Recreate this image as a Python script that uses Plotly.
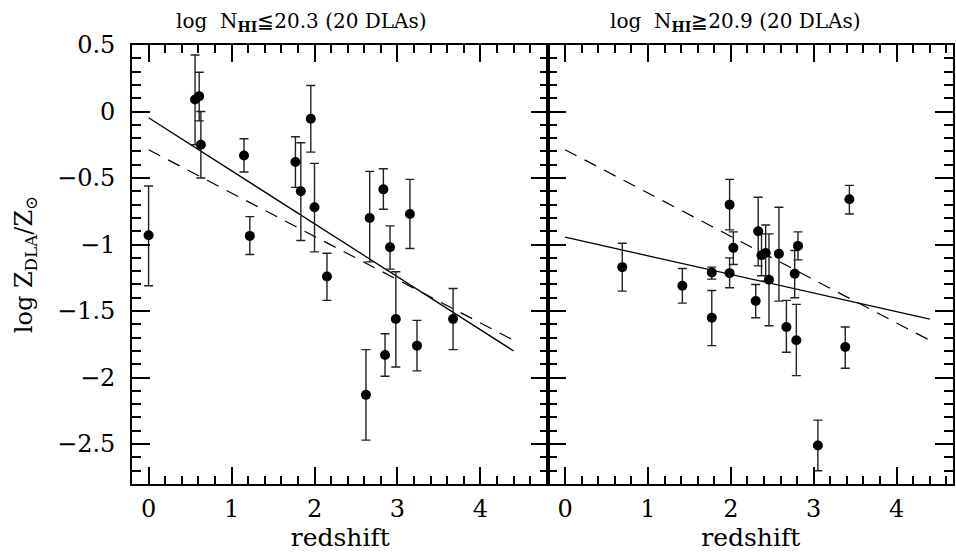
import plotly.graph_objects as go

# ---------------- data ----------------
left_z = [0.00, 0.56, 0.61, 0.63, 1.15, 1.22, 1.77, 1.835, 1.955, 2.00,
          2.15, 2.62, 2.665, 2.83, 2.85, 2.91, 2.98, 3.15, 3.235, 3.67]
left_met = [-0.93, 0.09, 0.115, -0.25, -0.33, -0.935, -0.38, -0.60, -0.055, -0.72,
            -1.24, -2.13, -0.80, -0.585, -1.83, -1.02, -1.56, -0.77, -1.76, -1.56]
left_err_up = [0.37, 0.335, 0.18, 0.25, 0.125, 0.145, 0.19, 0.365, 0.25, 0.33,
               0.175, 0.34, 0.35, 0.155, 0.16, 0.16, 0.355, 0.26, 0.19, 0.23]
left_err_dn = [0.38, 0.34, 0.185, 0.25, 0.125, 0.14, 0.19, 0.37, 0.25, 0.335,
               0.18, 0.34, 0.33, 0.15, 0.16, 0.165, 0.36, 0.26, 0.19, 0.23]

right_z = [0.69, 1.415, 1.77, 1.77, 1.985, 1.985, 2.03, 2.30, 2.33, 2.37,
           2.42, 2.46, 2.58, 2.67, 2.77, 2.79, 2.81, 3.43, 3.38, 3.05]
right_met = [-1.17, -1.31, -1.21, -1.55, -0.70, -1.215, -1.025, -1.425, -0.90, -1.08,
             -1.063, -1.265, -1.07, -1.62, -1.22, -1.72, -1.01, -0.66, -1.77, -2.51]
right_err_up = [0.18, 0.13, 0.04, 0.205, 0.19, 0.115, 0.12, 0.125, 0.255, 0.16,
                0.21, 0.345, 0.35, 0.20, 0.175, 0.27, 0.105, 0.105, 0.15, 0.19]
right_err_dn = [0.18, 0.13, 0.05, 0.21, 0.19, 0.11, 0.125, 0.125, 0.26, 0.155,
                0.21, 0.345, 0.355, 0.19, 0.18, 0.265, 0.105, 0.11, 0.16, 0.19]

# fit lines (endpoints)
fit_z = [0.0, 4.4]
left_fit = [-0.047, -1.80]
all_fit_dashed = [-0.287, -1.72]
right_fit = [-0.945, -1.56]

x_ticks = [0, 1, 2, 3, 4]
y_ticks = [0.5, 0, -0.5, -1, -1.5, -2, -2.5]
y_tick_text = ["0.5", "0", "\u22120.5", "\u22121", "\u22121.5", "\u22122", "\u22122.5"]

title_left = "log  N<sub><b>HI</b></sub>\u226620.3 (20 DLAs)"
title_right = "log  N<sub><b>HI</b></sub>\u226720.9 (20 DLAs)"

# ---------------- figure ----------------
FONT = "DejaVu Serif"
fig = go.Figure()

def add_panel(xs, ys, up, dn, fit, xa, ya):
    fig.add_trace(go.Scatter(x=fit_z, y=all_fit_dashed, mode="lines",
                             line=dict(color="black", width=1.2, dash="13px,9px"),
                             xaxis=xa, yaxis=ya, showlegend=False, hoverinfo="skip"))
    fig.add_trace(go.Scatter(x=fit_z, y=fit, mode="lines",
                             line=dict(color="black", width=1.3),
                             xaxis=xa, yaxis=ya, showlegend=False, hoverinfo="skip"))
    fig.add_trace(go.Scatter(x=xs, y=ys, mode="markers",
                             marker=dict(color="black", size=10),
                             error_y=dict(type="data", symmetric=False, array=up, arrayminus=dn,
                                          color="#222", thickness=1.4, width=4.5),
                             xaxis=xa, yaxis=ya, showlegend=False))

add_panel(left_z, left_met, left_err_up, left_err_dn, left_fit, "x", "y")
add_panel(right_z, right_met, right_err_up, right_err_dn, right_fit, "x2", "y2")

# invisible traces so the mirror (overlay) axes get their own subplots
for xa, ya in [("x3", "y"), ("x", "y3"), ("x4", "y2"), ("x2", "y4")]:
    fig.add_trace(go.Scatter(x=[None], y=[None], mode="markers", xaxis=xa, yaxis=ya,
                             showlegend=False, hoverinfo="skip"))

W, H = 956, 552
ml, mr, mt, mb = 132, 1, 45, 68
plot_w = W - ml - mr
split = 417.5 / plot_w
LEFT_XR = [-0.2, 4.82]
RIGHT_XR = [-0.2, 4.68]
YR = [-2.8, 0.5]

tick_common = dict(ticks="inside", tickwidth=1.5, tickcolor="black",
                   showline=True, linecolor="black", linewidth=1.8,
                   showgrid=False, zeroline=False)
x_minor = dict(dtick=0.2, ticks="inside", ticklen=8, tickwidth=1.5, tickcolor="black", showgrid=False)
y_minor = dict(dtick=0.1, ticks="inside", ticklen=9, tickwidth=1.5, tickcolor="black", showgrid=False)

main_x = dict(tick_common, tickvals=x_ticks, ticklen=17, minor=x_minor, mirror=True,
              tickfont=dict(family=FONT, size=24, color="black"),
              ticklabelstandoff=2,
              title=dict(text="redshift", font=dict(family=FONT, size=25, color="black"),
                         standoff=2))
top_x = dict(tick_common, tickvals=x_ticks, ticklen=17, side="top", minor=x_minor,
             showticklabels=False)
main_y = dict(tick_common, range=YR, tickvals=y_ticks, ticktext=y_tick_text, ticklen=18,
              minor=y_minor, mirror=True,
              tickfont=dict(family=FONT, size=24, color="black"))
right_y = dict(tick_common, range=YR, tickvals=y_ticks, ticklen=18, minor=y_minor,
               side="right", showticklabels=False)

fig.update_layout(
    width=W, height=H,
    margin=dict(l=ml, r=mr, t=mt, b=mb),
    plot_bgcolor="white", paper_bgcolor="white",
    xaxis=dict(main_x, domain=[0, split], range=LEFT_XR, anchor="y"),
    xaxis2=dict(main_x, domain=[split, 1], range=RIGHT_XR, anchor="y2"),
    xaxis3=dict(top_x, domain=[0, split], range=LEFT_XR, anchor="y", overlaying="x"),
    xaxis4=dict(top_x, domain=[split, 1], range=RIGHT_XR, anchor="y2", overlaying="x2"),
    yaxis=dict(main_y, anchor="x", ticklabelstandoff=10,
               title=dict(text="log Z<sub>DLA</sub>/Z<sub>\u2299</sub>",
                          font=dict(family=FONT, size=24, color="black"), standoff=18)),
    yaxis2=dict(main_y, anchor="x2", showticklabels=False),
    yaxis3=dict(right_y, anchor="x", overlaying="y"),
    yaxis4=dict(right_y, anchor="x2", overlaying="y2"),
    annotations=[
        dict(text=title_left, x=(302 - ml) / plot_w, y=1, xref="paper", yref="paper",
             xanchor="center", yanchor="bottom", yshift=8, showarrow=False,
             font=dict(family=FONT, size=20, color="black")),
        dict(text=title_right, x=(737 - ml) / plot_w, y=1, xref="paper", yref="paper",
             xanchor="center", yanchor="bottom", yshift=8, showarrow=False,
             font=dict(family=FONT, size=20, color="black")),
    ],
)

fig.write_html("out.html")
